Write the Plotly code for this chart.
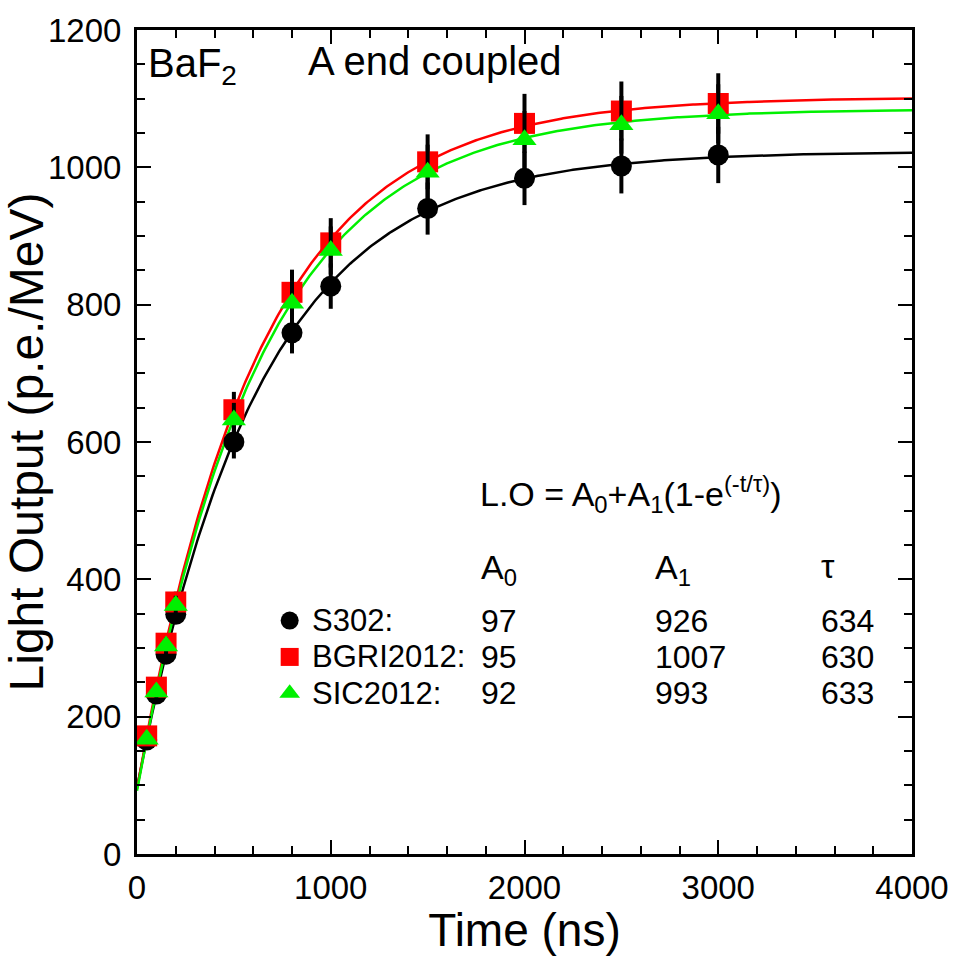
import numpy as np
import plotly.graph_objects as go

# ---- data ----
time_ns = [50, 100, 150, 200, 500, 800, 1000, 1500, 2000, 2500, 3000]
s302 = [166, 233, 291, 349, 600, 759, 827, 940, 984, 1002, 1018]
bgri = [172, 243, 307, 367, 647, 818, 890, 1008, 1064, 1082, 1093]
sic = [167, 236, 303, 362, 632, 802, 879, 993, 1040, 1062, 1078]
s302_err = [7, 9, 12, 14, 24, 30, 33, 38, 39, 40, 41]
bgri_err = [7, 10, 12, 15, 26, 33, 36, 40, 43, 43, 44]
sic_err = [7, 9, 12, 14, 25, 32, 35, 40, 42, 42, 43]

names = ["S302:", "BGRI2012:", "SIC2012:"]
A0 = [97, 95, 92]
A1 = [926, 1007, 993]
tau = [634, 630, 633]

colors = ["#000000", "#ff0000", "#00f000"]
symbols = ["circle", "square", "triangle-up"]
series = [s302, bgri, sic]
errs = [s302_err, bgri_err, sic_err]

FONT = "Liberation Sans, Arial, sans-serif"

fig = go.Figure()

# fit curves
t_fit = np.linspace(0, 4000, 401)
for a0, a1, tt, c in zip(A0, A1, tau, colors):
    fig.add_trace(go.Scatter(x=t_fit, y=a0 + a1 * (1 - np.exp(-t_fit / tt)),
                             mode="lines", line=dict(color=c, width=2.5),
                             showlegend=False, hoverinfo="skip"))

# data points with error bars
for y, e, c, s in zip(series, errs, colors, symbols):
    fig.add_trace(go.Scatter(x=time_ns, y=y, mode="markers",
                             marker=dict(color=c, symbol=s, size=21, line=dict(width=0)),
                             error_y=dict(type="data", array=e, visible=True,
                                          color="black", thickness=4, width=0),
                             showlegend=False))

# legend markers beside the table
leg_y = [340, 287, 234]
fig.add_trace(go.Scatter(x=[788, 788, 788], y=leg_y, mode="markers",
                         marker=dict(color=colors, symbol=symbols, size=18, line=dict(width=0)),
                         showlegend=False, hoverinfo="skip"))

ann = []
def txt(x, y, t, size=31, xanchor="left"):
    ann.append(dict(x=x, y=y, xref="x", yref="y", text=t, showarrow=False,
                    xanchor=xanchor, yanchor="middle",
                    font=dict(family=FONT, size=size, color="black")))

txt(45, 1148, "BaF<sub>2</sub>", size=40)
txt(870, 1155, "A end coupled", size=40)
txt(1760, 524, "L.O = A<sub>0</sub>+A<sub>1</sub>(1-e<sup>(-t/τ)</sup>)", size=34)
txt(1765, 414, "A<sub>0</sub>", size=34)
txt(2665, 414, "A<sub>1</sub>", size=34)
txt(3520, 420, "τ", size=34)
for i in range(3):
    txt(895, leg_y[i], names[i], size=31)
    txt(1765, leg_y[i], str(A0[i]), size=32)
    txt(2665, leg_y[i], str(A1[i]), size=32)
    txt(3520, leg_y[i], str(tau[i]), size=32)

axis_common = dict(showline=True, linewidth=3, linecolor="black", mirror="allticks",
                   ticks="inside", ticklen=14, tickwidth=2, tickcolor="black",
                   showgrid=False, zeroline=False,
                   tickfont=dict(family=FONT, size=33, color="black"))

fig.update_layout(
    width=965, height=956,
    margin=dict(l=135, r=53, t=19, b=99),
    plot_bgcolor="white", paper_bgcolor="white",
    annotations=ann,
    xaxis=dict(range=[0, 4000], dtick=1000, tick0=0, ticklabelstandoff=2,
               minor=dict(dtick=200, ticks="inside", ticklen=8, tickwidth=2, tickcolor="black"),
               title=dict(text="Time (ns)", font=dict(family=FONT, size=46, color="black"), standoff=6),
               **axis_common),
    yaxis=dict(range=[0, 1200], dtick=200, tick0=0, ticklabelstandoff=6,
               minor=dict(dtick=50, ticks="inside", ticklen=8, tickwidth=2, tickcolor="black"),
               title=dict(text="Light Output (p.e./MeV)", font=dict(family=FONT, size=48, color="black"), standoff=2),
               **axis_common),
)

fig.write_html("out.html")
